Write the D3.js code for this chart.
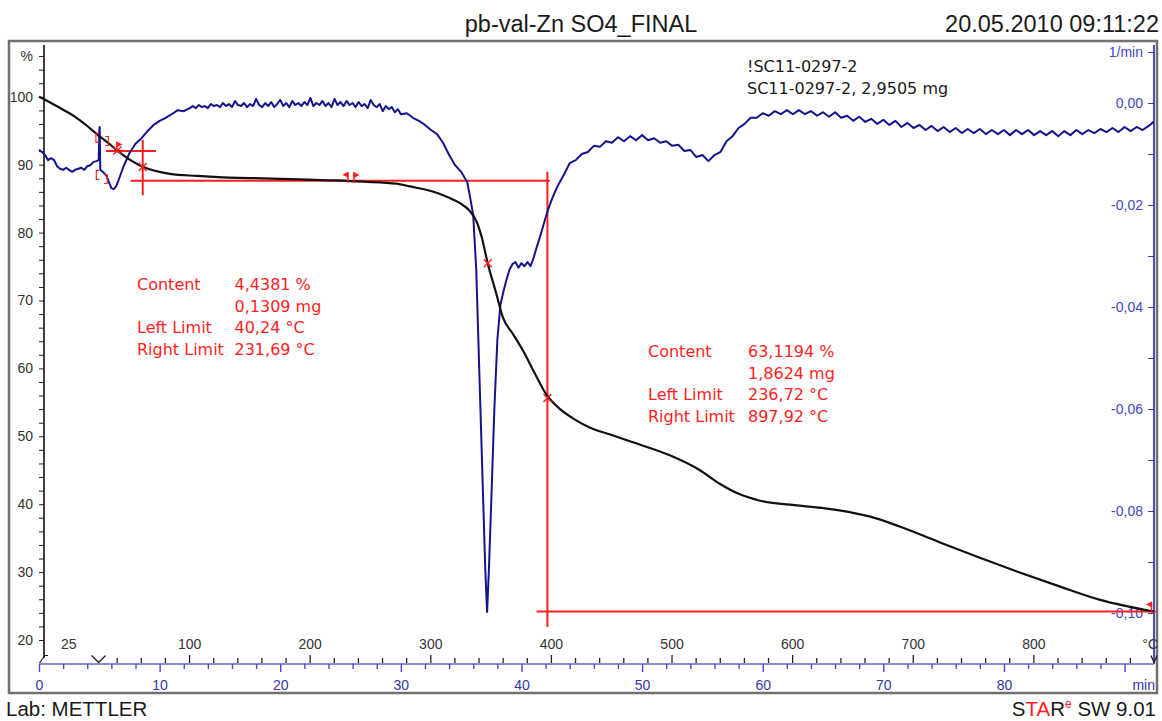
<!DOCTYPE html>
<html>
<head>
<meta charset="utf-8">
<script src="https://cdnjs.cloudflare.com/ajax/libs/d3/7.8.5/d3.min.js"></script>
<style>
  body { margin: 0; background: #fff; }
  svg { display: block; }
</style>
</head>
<body>
<svg id="chart"></svg>
<script>
// TGA / DTG curves (time in min, mass in %, DTG in 1/min)
var tgPoints = [
  [0, 100], [1, 99.1], [2, 98.1], [3, 97.05], [4, 95.7], [4.8, 94.5], [5.6, 93.4],
  [6.55, 92.0], [7.55, 90.7], [8.6, 89.7], [9.6, 89.1], [10.85, 88.65], [13.1, 88.35],
  [15.8, 88.1], [18.55, 88.0], [21.6, 87.85], [24.1, 87.7], [26.85, 87.5], [29.65, 87.2],
  [30.75, 86.8], [32.65, 86.05], [34.05, 85.1], [34.9, 84.35], [35.7, 83.2], [36.3, 81.55],
  [36.7, 79.35], [37.2, 75.5], [37.9, 71.1], [38.45, 67.55], [39.3, 65.05], [40.1, 62.7],
  [41.1, 59.3], [42.1, 56.05], [43.2, 54.0], [44.4, 52.5], [45.65, 51.3], [47.3, 50.3],
  [49.8, 48.8], [52.3, 47.2], [54.8, 45.0], [56.4, 43.05], [58.1, 41.45], [59.7, 40.55],
  [63.05, 39.8], [66.35, 39.1], [68.85, 38.2], [71.3, 36.75], [74.65, 34.4], [77.95, 32.15],
  [81.3, 29.95], [84.6, 27.9], [87.9, 25.95], [92.4, 24.2]
];

var dtgPoints = [
  [0, -0.0092], [0.25, -0.0096], [0.5, -0.0102], [0.75, -0.0112], [1, -0.0108], [1.25, -0.0112],
  [1.5, -0.0124], [1.75, -0.0129], [2, -0.0131], [2.25, -0.0127], [2.5, -0.0131], [2.75, -0.0135],
  [3, -0.0131], [3.25, -0.0129], [3.5, -0.0127], [3.75, -0.0131], [4, -0.0124], [4.25, -0.0122],
  [4.5, -0.0116], [4.75, -0.0114], [4.95, -0.0112], [5.0, -0.0053], [5.03, -0.0047], [5.08, -0.0131],
  [5.3, -0.0135], [5.6, -0.0143], [5.8, -0.0155], [6.0, -0.0167], [6.2, -0.0169], [6.4, -0.0163],
  [6.6, -0.0151], [7, -0.0125], [7.5, -0.0098], [8, -0.0080], [8.5, -0.0069], [9, -0.0055],
  [9.5, -0.0043], [10, -0.0035], [10.5, -0.0029], [11, -0.0022], [11.5, -0.0014], [12, -0.0016],
  [12.5, -0.0010], [12.75, -0.0006], [13, -0.0010], [13.25, -0.0004], [13.5, -0.0008], [13.75, -0.0006],
  [14, -0.0010], [14.25, -0.0002], [14.5, -0.0006], [14.75, -0.0004], [15, -0.0008], [15.25, 0],
  [15.5, -0.0006], [15.75, -0.0002], [16, -0.0008], [16.25, 0.0004], [16.5, -0.0004], [16.75, -0.0006],
  [17, 0], [17.25, -0.0008], [17.5, -0.0002], [17.75, -0.0006], [18, 0.0008], [18.25, -0.0004],
  [18.5, -0.0008], [18.75, 0], [19, -0.0006], [19.25, 0.0002], [19.5, -0.0008], [19.75, -0.0002],
  [20, 0.0006], [20.25, -0.0006], [20.5, 0], [20.75, -0.0008], [21, 0.0004], [21.25, -0.0004],
  [21.5, 0], [21.75, -0.0006], [22, 0.0002], [22.25, -0.0004], [22.5, 0.0010], [22.75, -0.0006],
  [23, 0], [23.25, -0.0004], [23.5, 0.0004], [23.75, -0.0006], [24, 0], [24.25, -0.0008],
  [24.5, 0.0008], [24.75, -0.0004], [25, 0.0002], [25.25, -0.0006], [25.5, 0.0004], [25.75, -0.0004],
  [26, 0], [26.25, -0.0008], [26.5, 0.0002], [26.75, -0.0006], [27, -0.0002], [27.25, -0.0010],
  [27.5, 0.0006], [27.75, -0.0004], [28, -0.0008], [28.25, -0.0002], [28.5, -0.0016], [28.75, -0.0006],
  [29, -0.0012], [29.25, -0.0008], [29.5, -0.0018], [29.75, -0.0012], [30, -0.0022],
  [30.5, -0.0020], [31, -0.0029], [31.5, -0.0035], [32, -0.0043], [32.5, -0.0053], [33, -0.0061],
  [33.5, -0.0078], [34, -0.0102], [34.5, -0.0122], [35, -0.0135], [35.25, -0.0145], [35.5, -0.0155],
  [35.75, -0.0186], [36, -0.0220], [36.25, -0.0327], [36.5, -0.0523], [36.75, -0.0719], [37, -0.0915],
  [37.15, -0.0998], [37.3, -0.0915], [37.5, -0.0778], [37.75, -0.0601], [38, -0.0465], [38.25, -0.0396],
  [38.5, -0.0370], [38.75, -0.0347], [39, -0.0327], [39.25, -0.0316], [39.5, -0.0312], [39.75, -0.0323],
  [40, -0.0314], [40.25, -0.0320], [40.5, -0.0312], [40.75, -0.0320], [41, -0.0304], [41.25, -0.0284],
  [41.5, -0.0265], [41.75, -0.0245], [42, -0.0225], [42.25, -0.0206], [42.5, -0.0190], [42.75, -0.0176],
  [43, -0.0163], [43.5, -0.0141], [44, -0.0118], [44.5, -0.0112], [45, -0.0100], [45.5, -0.0096],
  [46, -0.0084], [46.5, -0.0086], [47, -0.0075], [47.5, -0.0078], [48, -0.0067], [48.5, -0.0075],
  [49, -0.0065], [49.5, -0.0073], [50, -0.0063], [50.5, -0.0073], [51, -0.0069], [51.5, -0.0078],
  [52, -0.0075], [52.5, -0.0084], [53, -0.0082], [53.5, -0.0094], [54, -0.0092], [54.5, -0.0106],
  [55, -0.0102], [55.5, -0.0114], [56, -0.0102], [56.5, -0.0096], [57, -0.0075], [57.5, -0.0065],
  [58, -0.0049], [58.5, -0.0041], [59, -0.0029], [59.5, -0.0029], [60, -0.0020], [60.5, -0.0025],
  [61, -0.0016], [61.5, -0.0022], [62, -0.0014], [62.5, -0.0022], [63, -0.0014], [63.5, -0.0022],
  [64, -0.0016], [64.5, -0.0025], [65, -0.0018], [65.5, -0.0027], [66, -0.0018], [66.5, -0.0029],
  [67, -0.0025], [67.5, -0.0035], [68, -0.0027], [68.5, -0.0037], [69, -0.0031], [69.5, -0.0041],
  [70, -0.0033], [70.5, -0.0043], [71, -0.0035], [71.5, -0.0047], [72, -0.0039], [72.5, -0.0049],
  [73, -0.0043], [73.5, -0.0053], [74, -0.0045], [74.5, -0.0055], [75, -0.0047], [75.5, -0.0057],
  [76, -0.0049], [76.5, -0.0059], [77, -0.0051], [77.5, -0.0059], [78, -0.0051], [78.5, -0.0061],
  [79, -0.0053], [79.5, -0.0061], [80, -0.0053], [80.5, -0.0063], [81, -0.0053], [81.5, -0.0061],
  [82, -0.0053], [82.5, -0.0063], [83, -0.0055], [83.5, -0.0063], [84, -0.0055], [84.5, -0.0065],
  [85, -0.0055], [85.5, -0.0063], [86, -0.0053], [86.5, -0.0061], [87, -0.0053], [87.5, -0.0059],
  [88, -0.0051], [88.5, -0.0057], [89, -0.0049], [89.5, -0.0057], [90, -0.0047], [90.5, -0.0055],
  [91, -0.0047], [91.5, -0.0053], [92, -0.0045], [92.4, -0.0037]
];

// Temperature program: 5 min at 25 °C, then 10 K/min up to 900 °C
var heatStart = 4.94, heatRate = 10, startTemp = 25, endTemp = 900;

// Axis tick values
var pctTicks = [22, 24, 26, 28, 30, 32, 34, 36, 38, 40, 42, 44, 46, 48, 50, 52, 54, 56, 58, 60,
  62, 64, 66, 68, 70, 72, 74, 76, 78, 80, 82, 84, 86, 88, 90, 92, 94, 96, 98, 100, 102, 104, 106, 20];
var dtgTicks = [0.01, 0, -0.01, -0.02, -0.03, -0.04, -0.05, -0.06, -0.07, -0.08, -0.09, -0.10];
var timeTicks = [0, 2, 4, 6, 8, 10, 12, 14, 16, 18, 20, 22, 24, 26, 28, 30, 32, 34, 36, 38, 40, 42, 44,
  46, 48, 50, 52, 54, 56, 58, 60, 62, 64, 66, 68, 70, 72, 74, 76, 78, 80, 82, 84, 86, 88, 90];
var timeLabels = [0, 10, 20, 30, 40, 50, 60, 70, 80];
var tempTicks = [40, 60, 80, 100, 120, 140, 160, 180, 200, 220, 240, 260, 280, 300, 320, 340, 360,
  380, 400, 420, 440, 460, 480, 500, 520, 540, 560, 580, 600, 620, 640, 660, 680, 700, 720, 740,
  760, 780, 800, 820, 840, 860, 880];
var tempLabels = [100, 200, 300, 400, 500, 600, 700, 800];

// Step evaluation (red): lines [t1, %1, t2, %2], marks, texts
var stepLines = [
  [5.55, 92.02, 9.7, 92.02],
  [8.6, 93.65, 8.6, 85.5],
  [7.6, 87.62, 42.35, 87.62],
  [42.15, 88.97, 42.15, 21.9],
  [41.25, 24.2, 92.6, 24.2]
];
var crossMarks = [[6.5, 92.1], [8.6, 89.67], [37.2, 75.5], [42.15, 55.65]];
var limitFlags = [[40.24, 92.1, 1], [231.69, 87.65, -1], [236.72, 87.6, 1], [897.92, 24.35, -1]];
var bracketMarks = [[4.72, 93.95, 1], [5.75, 93.5, -1], [4.75, 88.5, 1], [5.65, 87.9, -1]];
var step1Text = [["Content", "4,4381 %"], ["", "0,1309 mg"], ["Left Limit", "40,24 °C"], ["Right Limit", "231,69 °C"]];
var step2Text = [["Content", "63,1194 %"], ["", "1,8624 mg"], ["Left Limit", "236,72 °C"], ["Right Limit", "897,92 °C"]];
var sampleText = ["!SC11-0297-2", "SC11-0297-2, 2,9505 mg"];

var W = 1162, H = 721;
var red = "#ff1e1e", navy = "#14148c", blueAxis = "#3c3cc4";
var axisFont = "'Liberation Sans', Arial, sans-serif";
var plotFont = "'DejaVu Sans', Verdana, sans-serif";

var svg = d3.select("#chart").attr("width", W).attr("height", H);

// Scales
var timeEnd = heatStart + (endTemp - startTemp) / heatRate;
var xTime = d3.scaleLinear().domain([0, timeEnd]).range([39, 1154]);
var xTemp = d3.scaleLinear().domain([startTemp, endTemp]).range([xTime(heatStart), xTime(timeEnd)]);
var yPct = d3.scaleLinear().domain([20, 100]).range([640, 96.8]);
var yDtg = d3.scaleLinear().domain([-0.1, 0]).range([613, 103]);

// Header / footer
svg.append("text").attr("x", 581).attr("y", 31.5).attr("text-anchor", "middle")
  .style("font-family", axisFont).style("font-size", "23.5px").attr("fill", "#1a1a1a")
  .text("pb-val-Zn SO4_FINAL");
svg.append("text").attr("x", 1159).attr("y", 31.5).attr("text-anchor", "end")
  .style("font-family", axisFont).style("font-size", "23.5px").attr("fill", "#1a1a1a")
  .text("20.05.2010 09:11:22");
svg.append("text").attr("x", 6).attr("y", 716)
  .style("font-family", axisFont).style("font-size", "20.5px").attr("fill", "#1a1a1a")
  .text("Lab: METTLER");
var star = svg.append("text").attr("x", 1156).attr("y", 716).attr("text-anchor", "end")
  .style("font-family", axisFont).style("font-size", "20.5px").attr("fill", "#1a1a1a");
star.append("tspan").text("S");
star.append("tspan").attr("fill", red).text("TA");
star.append("tspan").text("R");
star.append("tspan").attr("fill", red).attr("dy", -8).style("font-size", "12px").text("e");
star.append("tspan").attr("dy", 8).text(" SW 9.01");

// Frame
svg.append("rect").attr("x", 9).attr("y", 41).attr("width", 1148).attr("height", 652)
  .attr("fill", "none").attr("stroke", "#707070").attr("stroke-width", 2.5);

// Left axis (%)
var pctAxis = svg.append("g").attr("transform", "translate(44,0)")
  .call(d3.axisLeft(yPct).tickValues(pctTicks).tickSize(5).tickPadding(6)
    .tickFormat(function(d) { return d === 106 ? "%" : (d % 10 === 0 ? d : ""); }));
pctAxis.select(".domain").remove();
pctAxis.selectAll("line").attr("stroke", "#222");
pctAxis.selectAll("text").style("font-family", axisFont).style("font-size", "14px").attr("fill", "#333");
svg.append("line").attr("x1", 44).attr("x2", 44).attr("y1", 45).attr("y2", 658)
  .attr("stroke", "#111").attr("stroke-width", 1.6);
svg.append("path").attr("d", "M39.5,663L45,655.5L48,655.5").attr("fill", "none")
  .attr("stroke", "#222").attr("stroke-width", 1.2);

// Right axis (DTG)
function dtgFormat(d) {
  var k = Math.round(d * 100);
  if (k === 1) return "1/min";
  if (k % 2 !== 0) return "";
  return d3.format(".2f")(d).replace(".", ",").replace("\u2212", "-");
}
var dtgAxis = svg.append("g").attr("transform", "translate(1154,0)")
  .call(d3.axisLeft(yDtg).tickValues(dtgTicks).tickSize(6).tickPadding(5).tickFormat(dtgFormat));
dtgAxis.select(".domain").remove();
dtgAxis.selectAll("line").attr("stroke", blueAxis);
dtgAxis.selectAll("text").style("font-family", axisFont).style("font-size", "14px").attr("fill", "#4646c8");
svg.append("line").attr("x1", 1154).attr("x2", 1154).attr("y1", 45).attr("y2", 664)
  .attr("stroke", "#2020a0").attr("stroke-width", 1.6);

// Bottom time axis (min)
var timeAxis = svg.append("g").attr("transform", "translate(0,664)")
  .call(d3.axisBottom(xTime).tickValues(timeTicks).tickSize(5).tickPadding(0)
    .tickFormat(function(d) { return timeLabels.indexOf(d) >= 0 ? d : ""; }));
timeAxis.select(".domain").attr("stroke", "#8a8ae2").attr("stroke-width", 2)
  .attr("d", "M" + xTime(0) + ",0H" + xTime(timeEnd));
timeAxis.selectAll(".tick line").attr("stroke", "#4a4ad0").attr("stroke-width", 1.4)
  .attr("y2", function(d) { return d % 10 === 0 ? 8 : 5; });
timeAxis.selectAll("text").attr("y", 26).attr("dy", 0)
  .style("font-family", axisFont).style("font-size", "14px").attr("fill", "#3535a8");
svg.append("text").attr("x", 1155).attr("y", 690).attr("text-anchor", "end")
  .style("font-family", axisFont).style("font-size", "14px").attr("fill", "#3535a8").text("min");

// Temperature axis (°C)
var tempAxis = svg.append("g").attr("transform", "translate(0,663)")
  .call(d3.axisTop(xTemp).tickValues(tempTicks).tickSize(5).tickPadding(0)
    .tickFormat(function(d) { return tempLabels.indexOf(d) >= 0 ? d : ""; }));
tempAxis.select(".domain").remove();
tempAxis.selectAll(".tick line").attr("stroke", "#222").attr("stroke-width", 1.3)
  .attr("y2", function(d) { return d % 100 === 0 ? -8 : -5; });
tempAxis.selectAll("text").attr("y", -14).attr("dy", 0)
  .style("font-family", axisFont).style("font-size", "14px").attr("fill", "#333");
svg.append("text").attr("x", xTime(heatStart / 2)).attr("y", 649).attr("text-anchor", "middle")
  .style("font-family", axisFont).style("font-size", "14px").attr("fill", "#333").text(startTemp);
svg.append("text").attr("x", 1158).attr("y", 649).attr("text-anchor", "end")
  .style("font-family", axisFont).style("font-size", "14px").attr("fill", "#333").text("°C");
[startTemp, endTemp].forEach(function(T) {
  var x = xTemp(T), w = T === endTemp ? 3 : 7;
  svg.append("path").attr("d", "M" + (x - w) + ",655.5L" + x + ",662.5L" + (x + w) + ",655.5")
    .attr("fill", "none").attr("stroke", "#222").attr("stroke-width", 1.3);
});

// Red evaluation lines
svg.append("g").selectAll("line").data(stepLines).enter().append("line")
  .attr("x1", function(d) { return xTime(d[0]); })
  .attr("y1", function(d) { return yPct(d[1]); })
  .attr("x2", function(d) { return xTime(d[2]); })
  .attr("y2", function(d) { return yPct(d[3]); })
  .attr("stroke", red).attr("stroke-width", 2);

// DTG curve
svg.append("path").datum(dtgPoints)
  .attr("fill", "none").attr("stroke", navy).attr("stroke-width", 2).attr("stroke-linejoin", "round")
  .attr("d", d3.line().x(function(d) { return xTime(d[0]); }).y(function(d) { return yDtg(d[1]); }));

// TG curve
svg.append("path").datum(tgPoints)
  .attr("fill", "none").attr("stroke", "#111").attr("stroke-width", 2.2)
  .attr("d", d3.line().curve(d3.curveMonotoneX)
    .x(function(d) { return xTime(d[0]); }).y(function(d) { return yPct(d[1]); }));

// Red markers
var marks = svg.append("g").attr("stroke", red).attr("stroke-width", 1.4).attr("fill", "none");
crossMarks.forEach(function(d) {
  var x = xTime(d[0]), y = yPct(d[1]), s = 4;
  marks.append("path").attr("d", "M" + (x - s) + "," + (y - s) + "L" + (x + s) + "," + (y + s) +
    "M" + (x - s) + "," + (y + s) + "L" + (x + s) + "," + (y - s));
});
limitFlags.forEach(function(d) {
  var x = xTemp(d[0]), y = yPct(d[1]), dir = d[2];
  marks.append("path").attr("d", "M" + x + "," + (y + 2) + "L" + x + "," + (y - 8));
  marks.append("path").attr("d", "M" + x + "," + (y - 8) + "L" + (x + 4 * dir) + "," + (y - 6) + "L" + x + "," + (y - 4) + "Z")
    .attr("fill", red);
});
bracketMarks.forEach(function(d) {
  var x = xTime(d[0]), y = yPct(d[1]), dir = d[2];
  marks.append("path").attr("d", "M" + (x + 3 * dir) + "," + (y - 4.5) + "L" + x + "," + (y - 4.5) +
    "L" + x + "," + (y + 4.5) + "L" + (x + 3 * dir) + "," + (y + 4.5)).attr("stroke-width", 1.1);
});

// Texts inside plot
function textBlock(rows, x, y, dx, color) {
  rows.forEach(function(r, i) {
    [r[0], r[1]].forEach(function(s, j) {
      svg.append("text").attr("x", x + j * dx).attr("y", y + i * 21.6)
        .style("font-family", plotFont).style("font-size", "16px").attr("fill", color).text(s);
    });
  });
}
textBlock(step1Text, 137, 290, 97.5, red);
textBlock(step2Text, 648, 357, 100, red);
sampleText.forEach(function(s, i) {
  svg.append("text").attr("x", 747).attr("y", 72 + i * 22)
    .style("font-family", plotFont).style("font-size", "16px").attr("fill", "#1a1a1a").text(s);
});
</script>
</body>
</html>
